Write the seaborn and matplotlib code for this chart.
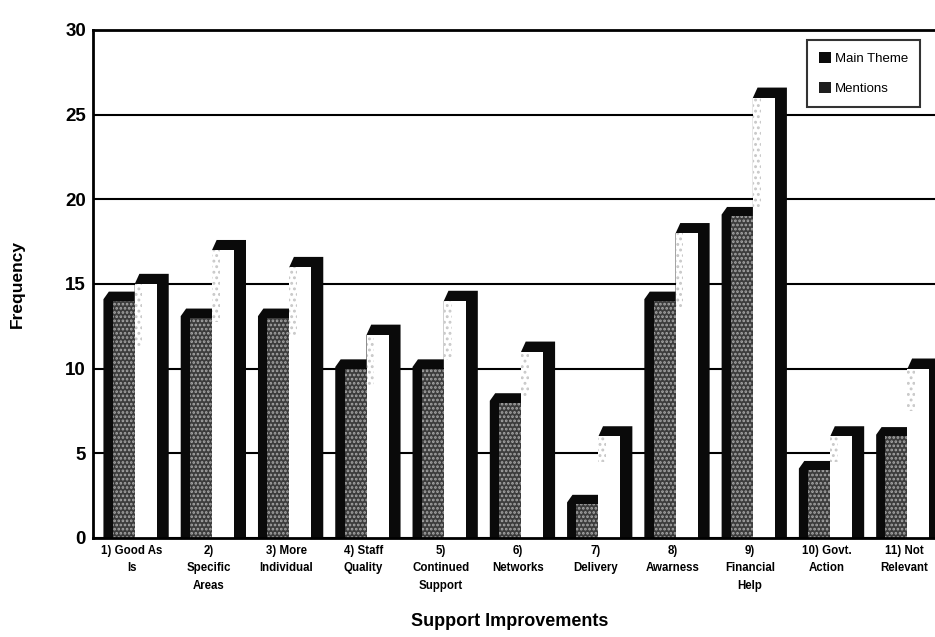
import numpy as np
import pandas as pd
import matplotlib
matplotlib.use("Agg")
import matplotlib.pyplot as plt
from matplotlib.patches import Polygon, Patch, Rectangle
import seaborn as sns

categories = ["1) Good As\nIs", "2)\nSpecific\nAreas", "3) More\nIndividual",
              "4) Staff\nQuality", "5)\nContinued\nSupport", "6)\nNetworks",
              "7)\nDelivery", "8)\nAwarness", "9)\nFinancial\nHelp",
              "10) Govt.\nAction", "11) Not\nRelevant"]
main_theme = [14, 13, 13, 10, 10, 8, 2, 14, 19, 4, 6]
mentions = [15, 17, 16, 12, 14, 11, 6, 18, 26, 6, 10]
series = ["Main Theme", "Mentions"]
y_ticks = [0, 5, 10, 15, 20, 25, 30]

df = pd.DataFrame({
    "Support Improvements": categories * 2,
    "Frequency": main_theme + mentions,
    "Series": [series[0]] * len(categories) + [series[1]] * len(categories),
})

sns.set_style("white")
plt.rcParams["font.family"] = ["Liberation Sans", "DejaVu Sans"]
plt.rcParams["text.color"] = "black"
plt.rcParams["axes.labelcolor"] = "black"
plt.rcParams["xtick.color"] = "black"
plt.rcParams["ytick.color"] = "black"
plt.rcParams["hatch.linewidth"] = 1.3

fig = plt.figure(figsize=(9.35, 6.37), dpi=100)
ax = fig.add_axes([93 / 935, 99 / 637, 850 / 935, 508 / 637])

face_colors = {"Main Theme": "#3c3c3c", "Mentions": "#ffffff"}
sns.barplot(data=df, x="Support Improvements", y="Frequency", hue="Series",
            hue_order=series, order=categories, palette=face_colors,
            width=0.57, dodge=True, ax=ax, legend=False, zorder=3,
            linewidth=0, saturation=1)

ax.set_ylim(0, 30)
ax.set_xlim(-0.5, 10.5)

# Shift each pair slightly right and give every bar a dark 3D block
shift = 0.04
cap = 0.55
for patch in list(ax.patches):
    x0 = patch.get_x() + shift
    patch.set_x(x0)
    w = patch.get_width()
    x1 = x0 + w
    v = patch.get_height()
    fc = matplotlib.colors.to_hex(patch.get_facecolor())
    if fc == "#3c3c3c":
        xl = x0 - 0.12
        pts = [(xl, 0), (xl, v + 0.1), (xl + 0.07, v + cap), (x1, v + cap), (x1, 0)]
        patch.set_hatch("....")
        patch.set_edgecolor("#a8a8a8")
        patch.set_linewidth(0)
    else:
        xr = x1 + 0.155
        pts = [(x0, 0), (x0, v), (x0 + 0.06, v + cap + 0.05),
               (xr, v + cap + 0.05), (xr, 0)]
        # faint grey shading on the upper left of the pale face
        shade_h = v * 0.25
        ax.add_patch(Rectangle((x0, v - shade_h), w * 0.35, shade_h,
                               facecolor="none", edgecolor="#c8c8c8",
                               hatch="...", linewidth=0, zorder=3.2))
    ax.add_patch(Polygon(pts, closed=True, facecolor="#0a0a0a", edgecolor="none",
                         zorder=2.5))

# Axes frame and gridlines
ax.set_yticks(y_ticks)
ax.yaxis.grid(True, color="black", linewidth=1.5, zorder=0)
ax.set_axisbelow(True)
for s in ["left", "bottom", "top"]:
    ax.spines[s].set_visible(True)
    ax.spines[s].set_color("black")
    ax.spines[s].set_linewidth(2)
ax.spines["right"].set_visible(False)
ax.spines["bottom"].set_zorder(5)

ax.tick_params(axis="y", length=3, width=1.5, color="black", pad=2,
               labelsize=13.5)
for lbl in ax.get_yticklabels():
    lbl.set_fontweight("bold")
ax.tick_params(axis="x", length=0, pad=5)
ax.set_xticks(range(len(categories)))
ax.set_xticklabels(categories, fontsize=8.3, fontweight="bold", linespacing=1.6)

ax.set_ylabel("Frequency", fontsize=12.5, fontweight="bold")
ax.yaxis.set_label_coords(-68 / 850, 0.5)
ax.set_xlabel("")
fig.text(510 / 935, 1 - 622 / 637, "Support Improvements", ha="center", va="center",
         fontsize=13, fontweight="bold")

handles = [Patch(facecolor="#0a0a0a", edgecolor="none", label="Main Theme"),
           Patch(facecolor="#1e1e1e", edgecolor="none", label="Mentions")]
leg = fig.legend(handles=handles, loc="upper left",
                 bbox_to_anchor=(807 / 935, 1 - 40 / 637), fontsize=9.5,
                 frameon=True, fancybox=False, handlelength=0.9,
                 handleheight=0.9, handletextpad=0.3, labelspacing=1.3,
                 borderpad=0.9, borderaxespad=0)
leg.get_frame().set_edgecolor("black")
leg.get_frame().set_linewidth(1.5)

fig.savefig("out.png", dpi=100)
